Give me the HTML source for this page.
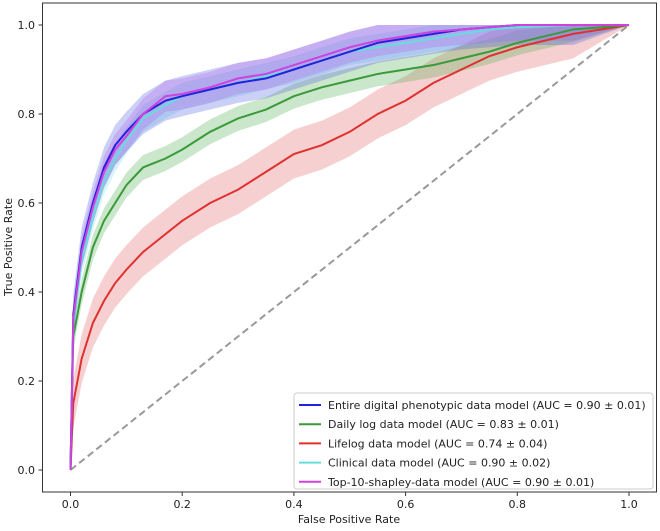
<!DOCTYPE html>
<html><head><meta charset="utf-8"><style>
body{margin:0;background:#fff;font-family:"DejaVu Sans","Liberation Sans",sans-serif;}
svg text{font-family:"DejaVu Sans","Liberation Sans",sans-serif;fill:#222;}
</style></head><body>
<svg id="chart" width="660" height="527" viewBox="0 0 660 527">
<rect x="0" y="0" width="660" height="527" fill="#fff"/>
<g id="bands"></g><g id="lines"></g><g id="axes"></g><g id="legend"></g>
</svg>
<script>
const fprGrid=[0,0.005,0.02,0.04,0.06,0.08,0.1,0.13,0.17,0.2,0.25,0.3,0.35,0.4,0.45,0.5,0.55,0.6,0.65,0.7,0.75,0.8,0.9,1];
const tprEntire=[0,0.35,0.5,0.6,0.68,0.73,0.76,0.8,0.83,0.84,0.855,0.87,0.88,0.9,0.92,0.94,0.96,0.97,0.98,0.99,0.995,1,1,1];
const tprDaily=[0,0.3,0.4,0.5,0.56,0.6,0.64,0.68,0.7,0.72,0.76,0.79,0.81,0.84,0.86,0.875,0.89,0.9,0.91,0.925,0.94,0.96,0.99,1];
const tprLifelog=[0,0.15,0.25,0.33,0.38,0.42,0.45,0.49,0.53,0.56,0.6,0.63,0.67,0.71,0.73,0.76,0.8,0.83,0.87,0.9,0.93,0.95,0.98,1];
const tprClinical=[0,0.33,0.47,0.57,0.65,0.7,0.74,0.79,0.82,0.84,0.855,0.87,0.885,0.9,0.92,0.94,0.95,0.96,0.97,0.98,0.99,0.995,1,1];
const tprShapley=[0,0.34,0.49,0.59,0.67,0.72,0.75,0.8,0.84,0.845,0.86,0.88,0.89,0.91,0.93,0.95,0.965,0.975,0.985,0.99,0.995,1,1,1];
const bandWidth=[0.045,0.028,0.055,0.03,0.035];
const seriesNames=["Entire digital phenotypic data model (AUC = 0.90 ± 0.01)","Daily log data model (AUC = 0.83 ± 0.01)","Lifelog data model (AUC = 0.74 ± 0.04)","Clinical data model (AUC = 0.90 ± 0.02)","Top-10-shapley-data model (AUC = 0.90 ± 0.01)"];
const xTicks=[0,0.2,0.4,0.6,0.8,1.0];
const yTicks=[0,0.2,0.4,0.6,0.8,1.0];
const colors=["#2222dd","#3a9a3a","#e03030","#66dddd","#cc44dd"];
const bandColors=["#4455dd","#44aa44","#e05555","#66dddd","#bb55ee"];
const allSeries=[tprEntire,tprDaily,tprLifelog,tprClinical,tprShapley];
const X=v=>70.5+v*558.5, Y=v=>470-v*445;
const NS="http://www.w3.org/2000/svg";
function mk(tag,attrs,parent){const e=document.createElementNS(NS,tag);for(const k in attrs)e.setAttribute(k,attrs[k]);parent.appendChild(e);return e;}
const bands=document.getElementById('bands'),lines=document.getElementById('lines'),axes=document.getElementById('axes'),legend=document.getElementById('legend');
const diag=mk('line',{x1:X(0),y1:Y(0),x2:X(1),y2:Y(1),stroke:'#999','stroke-width':2,'stroke-dasharray':'7,4'},lines);


const order=[2,1,3,0,4];
order.forEach(i=>{
  const s=allSeries[i],w=bandWidth[i];
  let up=[],lo=[];
  fprGrid.forEach((f,j)=>{const t=s[j];const ww=(j===0||f>=1)?0:w;up.push(X(f)+','+Y(Math.min(1,t+ww)));lo.push(X(f)+','+Y(Math.max(0,t-ww)));});
  const b=mk('polygon',{points:up.concat(lo.reverse()).join(' '),fill:bandColors[i],'fill-opacity':0.28},bands);
  
  
  const p=mk('polyline',{points:fprGrid.map((f,j)=>X(f)+','+Y(s[j])).join(' '),fill:'none',stroke:colors[i],'stroke-width':2},lines);
  
  
});
const frame=mk('rect',{x:42.5,y:3,width:614,height:489,fill:'none',stroke:'#333','stroke-width':1},axes);


xTicks.forEach(v=>{
  mk('line',{x1:X(v),y1:492,x2:X(v),y2:496,stroke:'#333'},axes);
  const t=mk('text',{x:X(v),y:508,'font-size':11,'text-anchor':'middle'},axes);t.textContent=v.toFixed(1);
  
  
});
yTicks.forEach(v=>{
  mk('line',{x1:38.5,y1:Y(v),x2:42.5,y2:Y(v),stroke:'#333'},axes);
  const t=mk('text',{x:35,y:Y(v)+4,'font-size':11,'text-anchor':'end'},axes);t.textContent=v.toFixed(1);
  
  
});
const yt=mk('text',{x:12,y:247,'font-size':11,'text-anchor':'middle',transform:'rotate(-90 12 247)'},axes);yt.textContent='True Positive Rate';


const xt=mk('text',{x:349,y:523,'font-size':11,'text-anchor':'middle'},axes);xt.textContent='False Positive Rate';


const lb=mk('rect',{x:294,y:393,width:359,height:96,rx:3,fill:'#fff','fill-opacity':0.85,stroke:'#ccc'},legend);


seriesNames.forEach((n,i)=>{
  const y=405+i*19.2;
  const g=mk('g',{},legend);
  
  
  mk('line',{x1:299,y1:y,x2:321,y2:y,stroke:colors[i],'stroke-width':2},g);
  const t=mk('text',{x:328,y:y+4,'font-size':11},g);t.textContent=n;
});
</script>
</body></html>
